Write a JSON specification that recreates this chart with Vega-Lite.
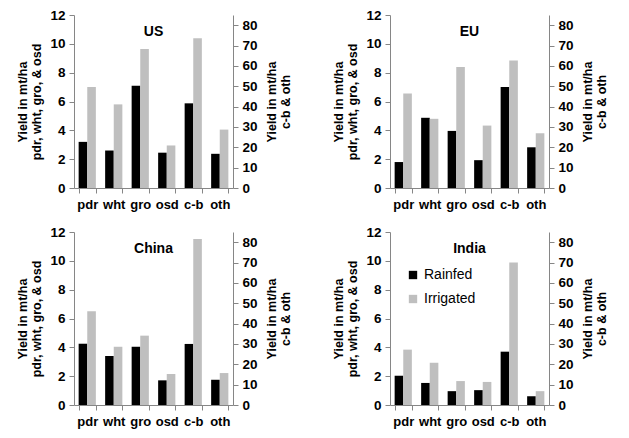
{
  "$schema": "https://vega.github.io/schema/vega-lite/v6.json",
  "background": "white",
  "padding": {"left": 16, "top": 8, "right": 2, "bottom": 2},
  "data": {"values": [
    {"region": "US", "crop": "pdr", "type": "Rainfed", "yield": 3.2},
    {"region": "US", "crop": "pdr", "type": "Irrigated", "yield": 7.0},
    {"region": "US", "crop": "wht", "type": "Rainfed", "yield": 2.6},
    {"region": "US", "crop": "wht", "type": "Irrigated", "yield": 5.8},
    {"region": "US", "crop": "gro", "type": "Rainfed", "yield": 7.1},
    {"region": "US", "crop": "gro", "type": "Irrigated", "yield": 9.65},
    {"region": "US", "crop": "osd", "type": "Rainfed", "yield": 2.45},
    {"region": "US", "crop": "osd", "type": "Irrigated", "yield": 2.95},
    {"region": "US", "crop": "c-b", "type": "Rainfed", "yield": 41.6},
    {"region": "US", "crop": "c-b", "type": "Irrigated", "yield": 73.6},
    {"region": "US", "crop": "oth", "type": "Rainfed", "yield": 16.8},
    {"region": "US", "crop": "oth", "type": "Irrigated", "yield": 28.7},
    {"region": "EU", "crop": "pdr", "type": "Rainfed", "yield": 1.8},
    {"region": "EU", "crop": "pdr", "type": "Irrigated", "yield": 6.55},
    {"region": "EU", "crop": "wht", "type": "Rainfed", "yield": 4.87},
    {"region": "EU", "crop": "wht", "type": "Irrigated", "yield": 4.8},
    {"region": "EU", "crop": "gro", "type": "Rainfed", "yield": 3.96},
    {"region": "EU", "crop": "gro", "type": "Irrigated", "yield": 8.4},
    {"region": "EU", "crop": "osd", "type": "Rainfed", "yield": 1.93},
    {"region": "EU", "crop": "osd", "type": "Irrigated", "yield": 4.33},
    {"region": "EU", "crop": "c-b", "type": "Rainfed", "yield": 49.6},
    {"region": "EU", "crop": "c-b", "type": "Irrigated", "yield": 62.7},
    {"region": "EU", "crop": "oth", "type": "Rainfed", "yield": 20.0},
    {"region": "EU", "crop": "oth", "type": "Irrigated", "yield": 26.9},
    {"region": "China", "crop": "pdr", "type": "Rainfed", "yield": 4.25},
    {"region": "China", "crop": "pdr", "type": "Irrigated", "yield": 6.5},
    {"region": "China", "crop": "wht", "type": "Rainfed", "yield": 3.4},
    {"region": "China", "crop": "wht", "type": "Irrigated", "yield": 4.04},
    {"region": "China", "crop": "gro", "type": "Rainfed", "yield": 4.04},
    {"region": "China", "crop": "gro", "type": "Irrigated", "yield": 4.81},
    {"region": "China", "crop": "osd", "type": "Rainfed", "yield": 1.71},
    {"region": "China", "crop": "osd", "type": "Irrigated", "yield": 2.15},
    {"region": "China", "crop": "c-b", "type": "Rainfed", "yield": 30.0},
    {"region": "China", "crop": "c-b", "type": "Irrigated", "yield": 81.6},
    {"region": "China", "crop": "oth", "type": "Rainfed", "yield": 12.4},
    {"region": "China", "crop": "oth", "type": "Irrigated", "yield": 15.7},
    {"region": "India", "crop": "pdr", "type": "Rainfed", "yield": 2.03},
    {"region": "India", "crop": "pdr", "type": "Irrigated", "yield": 3.84},
    {"region": "India", "crop": "wht", "type": "Rainfed", "yield": 1.53},
    {"region": "India", "crop": "wht", "type": "Irrigated", "yield": 2.93},
    {"region": "India", "crop": "gro", "type": "Rainfed", "yield": 0.96},
    {"region": "India", "crop": "gro", "type": "Irrigated", "yield": 1.66},
    {"region": "India", "crop": "osd", "type": "Rainfed", "yield": 1.03},
    {"region": "India", "crop": "osd", "type": "Irrigated", "yield": 1.6},
    {"region": "India", "crop": "c-b", "type": "Rainfed", "yield": 26.2},
    {"region": "India", "crop": "c-b", "type": "Irrigated", "yield": 70.0},
    {"region": "India", "crop": "oth", "type": "Rainfed", "yield": 4.3},
    {"region": "India", "crop": "oth", "type": "Irrigated", "yield": 6.8}
  ]},
  "columns": 2,
  "spacing": {"row": 14, "column": 40},
  "resolve": {"scale": {"color": "independent"}, "legend": {"color": "independent"}},
  "concat": [
    {
      "title": {"text": "US"},
      "width": 159, "height": 173,
      "transform": [{"filter": {"field": "region", "equal": "US"}}],
      "layer": [
        {
          "transform": [{"filter": {"field": "crop", "oneOf": ["pdr", "wht", "gro", "osd"]}}],
          "mark": {"type": "bar"},
          "encoding": {
            "x": {"field": "crop", "type": "nominal", "scale": {"domain": ["pdr", "wht", "gro", "osd", "c-b", "oth"], "paddingInner": 0.35, "paddingOuter": 0.175}, "axis": {"title": null, "labelAngle": 0, "tickBand": "extent"}},
            "xOffset": {"field": "type", "type": "nominal", "scale": {"domain": ["Rainfed", "Irrigated"], "paddingInner": 0, "paddingOuter": 0}},
            "y": {"field": "yield", "type": "quantitative", "scale": {"domain": [0, 12], "nice": false}, "axis": {"values": [0, 2, 4, 6, 8, 10, 12], "title": ["Yield in mt/ha", "pdr, wht, gro, & osd"], "titlePadding": 6}},
            "color": {"field": "type", "type": "nominal", "scale": {"domain": ["Rainfed", "Irrigated"], "range": ["#000000", "#bfbfbf"]}, "legend": null}
          }
        },
        {
          "transform": [{"filter": {"field": "crop", "oneOf": ["c-b", "oth"]}}],
          "mark": {"type": "bar"},
          "encoding": {
            "x": {"field": "crop", "type": "nominal"},
            "xOffset": {"field": "type", "type": "nominal"},
            "y": {"field": "yield", "type": "quantitative", "scale": {"domain": [0, 85], "nice": false}, "axis": {"orient": "right", "values": [0, 10, 20, 30, 40, 50, 60, 70, 80], "title": ["Yield in mt/ha", "c-b & oth"], "titleAngle": 270, "titleBaseline": "top", "titlePadding": -6}},
            "color": {"field": "type", "type": "nominal", "legend": null}
          }
        }
      ],
      "resolve": {"scale": {"y": "independent"}}
    },
    {
      "title": {"text": "EU"},
      "width": 159, "height": 173,
      "transform": [{"filter": {"field": "region", "equal": "EU"}}],
      "layer": [
        {
          "transform": [{"filter": {"field": "crop", "oneOf": ["pdr", "wht", "gro", "osd"]}}],
          "mark": {"type": "bar"},
          "encoding": {
            "x": {"field": "crop", "type": "nominal", "scale": {"domain": ["pdr", "wht", "gro", "osd", "c-b", "oth"], "paddingInner": 0.35, "paddingOuter": 0.175}, "axis": {"title": null, "labelAngle": 0, "tickBand": "extent"}},
            "xOffset": {"field": "type", "type": "nominal", "scale": {"domain": ["Rainfed", "Irrigated"], "paddingInner": 0, "paddingOuter": 0}},
            "y": {"field": "yield", "type": "quantitative", "scale": {"domain": [0, 12], "nice": false}, "axis": {"values": [0, 2, 4, 6, 8, 10, 12], "title": ["Yield in mt/ha", "pdr, wht, gro, & osd"], "titlePadding": 6}},
            "color": {"field": "type", "type": "nominal", "scale": {"domain": ["Rainfed", "Irrigated"], "range": ["#000000", "#bfbfbf"]}, "legend": null}
          }
        },
        {
          "transform": [{"filter": {"field": "crop", "oneOf": ["c-b", "oth"]}}],
          "mark": {"type": "bar"},
          "encoding": {
            "x": {"field": "crop", "type": "nominal"},
            "xOffset": {"field": "type", "type": "nominal"},
            "y": {"field": "yield", "type": "quantitative", "scale": {"domain": [0, 85], "nice": false}, "axis": {"orient": "right", "values": [0, 10, 20, 30, 40, 50, 60, 70, 80], "title": ["Yield in mt/ha", "c-b & oth"], "titleAngle": 270, "titleBaseline": "top", "titlePadding": -6}},
            "color": {"field": "type", "type": "nominal", "legend": null}
          }
        }
      ],
      "resolve": {"scale": {"y": "independent"}}
    },
    {
      "title": {"text": "China"},
      "width": 159, "height": 173,
      "transform": [{"filter": {"field": "region", "equal": "China"}}],
      "layer": [
        {
          "transform": [{"filter": {"field": "crop", "oneOf": ["pdr", "wht", "gro", "osd"]}}],
          "mark": {"type": "bar"},
          "encoding": {
            "x": {"field": "crop", "type": "nominal", "scale": {"domain": ["pdr", "wht", "gro", "osd", "c-b", "oth"], "paddingInner": 0.35, "paddingOuter": 0.175}, "axis": {"title": null, "labelAngle": 0, "tickBand": "extent"}},
            "xOffset": {"field": "type", "type": "nominal", "scale": {"domain": ["Rainfed", "Irrigated"], "paddingInner": 0, "paddingOuter": 0}},
            "y": {"field": "yield", "type": "quantitative", "scale": {"domain": [0, 12], "nice": false}, "axis": {"values": [0, 2, 4, 6, 8, 10, 12], "title": ["Yield in mt/ha", "pdr, wht, gro, & osd"], "titlePadding": 6}},
            "color": {"field": "type", "type": "nominal", "scale": {"domain": ["Rainfed", "Irrigated"], "range": ["#000000", "#bfbfbf"]}, "legend": null}
          }
        },
        {
          "transform": [{"filter": {"field": "crop", "oneOf": ["c-b", "oth"]}}],
          "mark": {"type": "bar"},
          "encoding": {
            "x": {"field": "crop", "type": "nominal"},
            "xOffset": {"field": "type", "type": "nominal"},
            "y": {"field": "yield", "type": "quantitative", "scale": {"domain": [0, 85], "nice": false}, "axis": {"orient": "right", "values": [0, 10, 20, 30, 40, 50, 60, 70, 80], "title": ["Yield in mt/ha", "c-b & oth"], "titleAngle": 270, "titleBaseline": "top", "titlePadding": -6}},
            "color": {"field": "type", "type": "nominal", "legend": null}
          }
        }
      ],
      "resolve": {"scale": {"y": "independent"}}
    },
    {
      "title": {"text": "India"},
      "width": 159, "height": 173,
      "transform": [{"filter": {"field": "region", "equal": "India"}}],
      "layer": [
        {
          "transform": [{"filter": {"field": "crop", "oneOf": ["pdr", "wht", "gro", "osd"]}}],
          "mark": {"type": "bar"},
          "encoding": {
            "x": {"field": "crop", "type": "nominal", "scale": {"domain": ["pdr", "wht", "gro", "osd", "c-b", "oth"], "paddingInner": 0.35, "paddingOuter": 0.175}, "axis": {"title": null, "labelAngle": 0, "tickBand": "extent"}},
            "xOffset": {"field": "type", "type": "nominal", "scale": {"domain": ["Rainfed", "Irrigated"], "paddingInner": 0, "paddingOuter": 0}},
            "y": {"field": "yield", "type": "quantitative", "scale": {"domain": [0, 12], "nice": false}, "axis": {"values": [0, 2, 4, 6, 8, 10, 12], "title": ["Yield in mt/ha", "pdr, wht, gro, & osd"], "titlePadding": 6}},
            "color": {"field": "type", "type": "nominal", "scale": {"domain": ["Rainfed", "Irrigated"], "range": ["#000000", "#bfbfbf"]}, "legend": {"title": null, "orient": "none", "legendX": 16, "legendY": 36}}
          }
        },
        {
          "transform": [{"filter": {"field": "crop", "oneOf": ["c-b", "oth"]}}],
          "mark": {"type": "bar"},
          "encoding": {
            "x": {"field": "crop", "type": "nominal"},
            "xOffset": {"field": "type", "type": "nominal"},
            "y": {"field": "yield", "type": "quantitative", "scale": {"domain": [0, 85], "nice": false}, "axis": {"orient": "right", "values": [0, 10, 20, 30, 40, 50, 60, 70, 80], "title": ["Yield in mt/ha", "c-b & oth"], "titleAngle": 270, "titleBaseline": "top", "titlePadding": -6}},
            "color": {"field": "type", "type": "nominal", "legend": {"title": null, "orient": "none", "legendX": 16, "legendY": 36}}
          }
        }
      ],
      "resolve": {"scale": {"y": "independent"}}
    }
  ],
  "config": {
    "font": "Liberation Sans",
    "view": {"stroke": null},
    "axis": {
      "domainColor": "#868686", "tickColor": "#868686",
      "labelColor": "#000000", "titleColor": "#000000",
      "labelFont": "Liberation Sans", "labelFontWeight": "bold", "labelFontSize": 13.5,
      "titleFont": "Liberation Sans", "titleFontWeight": "bold", "titleFontSize": 12.5, "titleLineHeight": 14,
      "grid": false, "tickSize": 5, "labelPadding": 4
    },
    "axisX": {"labelFontSize": 13, "labelPadding": 5},
    "title": {"font": "Liberation Sans", "fontSize": 14, "fontWeight": "bold", "color": "#000000", "offset": -31, "anchor": "middle", "frame": "group"},
    "legend": {"labelFont": "Liberation Sans", "labelFontSize": 14, "labelColor": "#000000", "symbolType": "square", "symbolSize": 70, "symbolStrokeWidth": 0, "rowPadding": 10, "labelOffset": 4}
  }
}
